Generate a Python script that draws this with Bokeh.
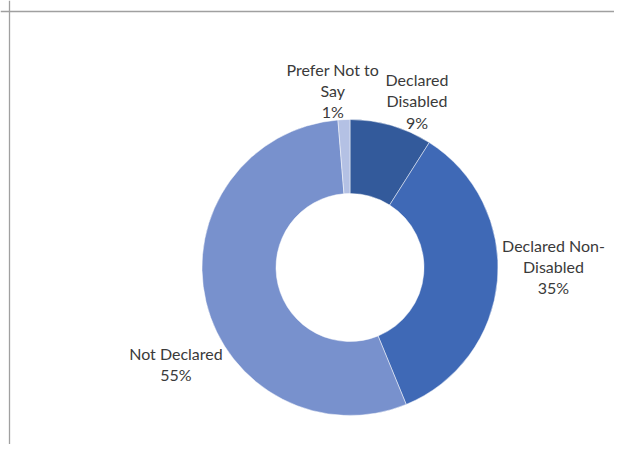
import math
from bokeh.plotting import figure
from bokeh.models import ColumnDataSource, Range1d, Span
from bokeh.core.properties import value
from bokeh.embed import file_html
from bokeh.resources import INLINE

# ---- data ----
categories = ["Declared Disabled", "Declared Non-Disabled", "Not Declared", "Prefer Not to Say"]
label_text = ["Declared\nDisabled", "Declared Non-\nDisabled", "Not Declared", "Prefer Not to\nSay"]
shares = [9.0, 34.8, 54.9, 1.3]

# ---- style / layout ----
colors = ["#335A9B", "#3F69B6", "#7891CD", "#B4C1E4"]
W, H = 614, 444
CX, CY = 349.5, H - 267.0      # donut centre in plot units (1 unit = 1 px)
R_OUT, R_IN = 148, 74
# label placement: (radial distance of label centre, angular nudge in degrees)
label_layout = [(179.5, 5.7), (203.5, -5.3), (199.0, -15.5), (178.0, -3.2)]

total = sum(shares)
starts, ends, mids = [], [], []
cum = 0.0
for s in shares:
    a0 = math.pi / 2 - 2 * math.pi * cum / total
    cum += s
    a1 = math.pi / 2 - 2 * math.pi * cum / total
    starts.append(a0)
    ends.append(a1)
    mids.append((cum - s / 2) / total * 360.0)  # clockwise from top, degrees

lx, ly, txt = [], [], []
for i, s in enumerate(shares):
    dist, nudge = label_layout[i]
    th = math.radians(mids[i] + nudge)
    lx.append(CX + dist * math.sin(th))
    ly.append(CY + dist * math.cos(th))
    txt.append(f"{label_text[i]}\n{round(100 * s / total)}%")

src = ColumnDataSource(dict(cat=categories, start=starts, end=ends, color=colors))
lsrc = ColumnDataSource(dict(x=lx, y=ly, text=txt))

p = figure(width=W, height=H, output_backend="svg", toolbar_location=None,
           x_range=Range1d(0, W), y_range=Range1d(0, H),
           min_border=0, min_border_left=0, min_border_right=0,
           min_border_top=0, min_border_bottom=0)
p.axis.visible = False
p.grid.visible = False
p.outline_line_color = None
p.background_fill_color = "white"
p.border_fill_color = "white"

p.annular_wedge(x=CX, y=CY, inner_radius=R_IN, outer_radius=R_OUT,
                start_angle="start", end_angle="end", direction="clock",
                fill_color="color", line_color="white", line_width=0.8,
                line_alpha=0.6, source=src)

p.text(x="x", y="y", text="text", source=lsrc, text_align="center",
       text_baseline="middle", text_font=value("Lato"), text_font_size="16px",
       text_color="#3A3A3A", text_line_height=1.12)

# chart-area border (top and left edges visible in the crop)
p.add_layout(Span(location=9, dimension="height", line_color="#A0A0A0", line_width=1.3))
p.add_layout(Span(location=H - 11, dimension="width", line_color="#A0A0A0", line_width=1.3))

open("out.html", "w").write(file_html(p, INLINE))
